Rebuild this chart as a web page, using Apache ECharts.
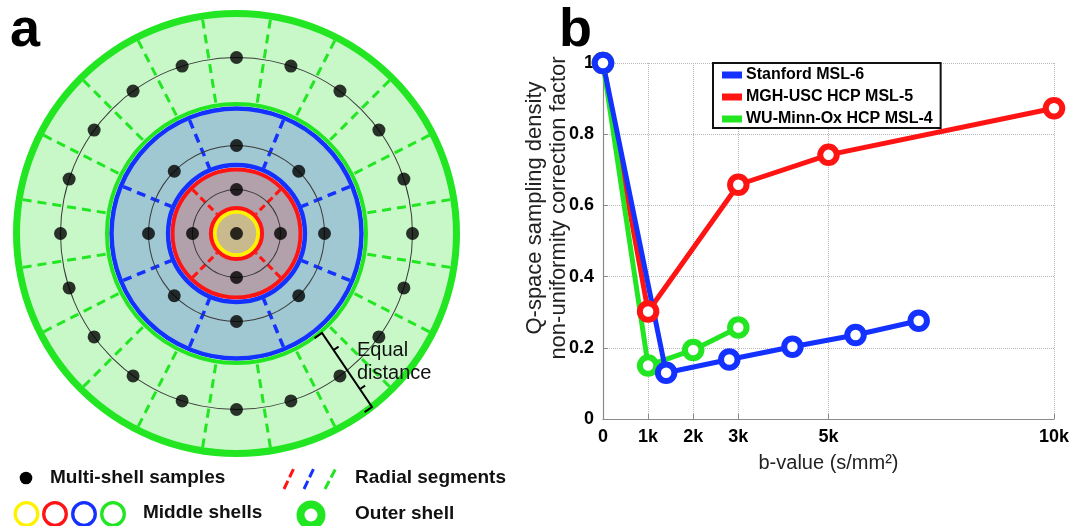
<!DOCTYPE html>
<html>
<head>
<meta charset="utf-8">
<title>Multi-shell sampling</title>
<script src="https://cdn.jsdelivr.net/npm/echarts@6/dist/echarts.min.js"></script>
<style>
  html, body { margin: 0; padding: 0; background: #fff; }
  #chart { width: 1075px; height: 526px; }
</style>
</head>
<body>
<div id="chart"></div>
<script>
// ---- panel b : correction factor vs b-value ----
var seriesNames = ['Stanford MSL-6', 'MGH-USC HCP MSL-5', 'WU-Minn-Ox HCP MSL-4'];
var stanfordB = [0, 1400, 2800, 4200, 5600, 7000];
var stanfordVal = [1, 0.13, 0.167, 0.203, 0.236, 0.276];
var mghB = [0, 1000, 3000, 5000, 10000];
var mghVal = [1, 0.302, 0.658, 0.742, 0.873];
var wuB = [0, 1000, 2000, 3000];
var wuVal = [1, 0.15, 0.194, 0.257];
var xTickValues = [0, 1000, 2000, 3000, 5000, 10000];

// ---- panel a : sample shells (radius in shell units, angles in degrees) ----
var shellRadius = [0, 1, 2, 4];
var shellAngles = [
	[0],
	[0, 90, 180, 270],
	[0, 45, 90, 135, 180, 225, 270, 315],
	[0, 18, 36, 54, 72, 90, 108, 126, 144, 162, 180, 198, 216, 234, 252, 270, 288, 306, 324, 342]
];

var FONT = 'Arial, "Liberation Sans", sans-serif';
var BLUE = '#1432ff', RED = '#ff1414', GREEN = '#22e622', YELLOW = '#fff200';
var cx = 236.5, cy = 233.5, unit = 44;

var chart = echarts.init(document.getElementById('chart'));

// sample points
var samples = [];
for (var i = 0; i < shellRadius.length; i++) {
	for (var j = 0; j < shellAngles[i].length; j++) {
		samples.push([shellRadius[i], shellAngles[i][j]]);
	}
}

// filled annulus drawn as a one-slice pie
function ring(r0, r1, fill, stroke, sw, z) {
	return {
		type: 'pie', silent: true, z: z,
		center: [cx, cy], radius: [r0, r1],
		label: { show: false }, labelLine: { show: false },
		emphasis: { disabled: true },
		itemStyle: { color: fill, borderColor: stroke || fill, borderWidth: sw || 0 },
		data: [{ value: 1, name: 'ring' }]
	};
}

// radial dashed segments from an angle axis split line
function segAxis(idx, start, step, color, dash, w) {
	return {
		polarIndex: idx, type: 'value', min: 0, max: 360, interval: step, startAngle: start, z: 3,
		axisLine: { show: false }, axisTick: { show: false }, axisLabel: { show: false },
		splitArea: { show: false },
		splitLine: { show: true, lineStyle: { color: color, width: w, type: dash } }
	};
}

// hollow thick markers: white filled circle with a wide coloured border
function lineSeries(name, xs, ys, color) {
	var d = [];
	for (var k = 0; k < xs.length; k++) d.push([xs[k], ys[k]]);
	return {
		name: name, type: 'line', data: d,
		symbol: 'circle', symbolSize: 16.5,
		lineStyle: { width: 5, color: color },
		itemStyle: { color: '#fff', borderColor: color, borderWidth: 6 },
		z: 3
	};
}

var series = [
	// panel a shells
	ring(0, 21.8, '#c8ba8c', YELLOW, 4, 1),
	ring(25.6, 64, '#b2a0aa', RED, 4, 1),
	ring(68.4, 125, '#a0c8d2', BLUE, 4.5, 1),
	ring(129.5, 220, '#c8f8c8', GREEN, 4, 1),
	ring(216.5, 223.5, GREEN, null, 0, 4)
];
// thin circles through the samples
for (var s = 1; s < shellRadius.length; s++) {
	var rr = shellRadius[s] * unit;
	series.push(ring(rr - 0.5, rr + 0.5, '#3a3a3a', null, 0, 4));
}
series.push({
	type: 'scatter', coordinateSystem: 'polar', polarIndex: 0, silent: true,
	symbolSize: 13, itemStyle: { color: '#000' }, z: 6, data: samples
});
// panel b lines (blue on top)
series.push(lineSeries(seriesNames[1], mghB, mghVal, RED));
series.push(lineSeries(seriesNames[2], wuB, wuVal, GREEN));
series.push(lineSeries(seriesNames[0], stanfordB, stanfordVal, BLUE));

var axisGray = '#8a8a8a';
var gridLine = { lineStyle: { type: 'dotted', color: '#b8b8b8', width: 1 } };

var option = {
	animation: false,
	backgroundColor: '#fff',
	polar: [
		{ center: [cx, cy], radius: 5 * unit },
		{ center: [cx, cy], radius: [27.6, 62] },
		{ center: [cx, cy], radius: [70.6, 122.7] },
		{ center: [cx, cy], radius: [131.5, 216.5] }
	],
	angleAxis: [
		{ polarIndex: 0, type: 'value', min: 0, max: 360, startAngle: 0, show: false },
		segAxis(1, 45, 90, RED, [7, 4], 3),
		segAxis(2, 22.5, 45, BLUE, [9, 6], 3.5),
		segAxis(3, 9, 18, GREEN, [9, 6], 3)
	],
	radiusAxis: [
		{ polarIndex: 0, type: 'value', min: 0, max: 5, show: false },
		{ polarIndex: 1, type: 'value', min: 0, max: 1, show: false },
		{ polarIndex: 2, type: 'value', min: 0, max: 1, show: false },
		{ polarIndex: 3, type: 'value', min: 0, max: 1, show: false }
	],
	grid: { left: 603, top: 63, width: 451, height: 356, outerBoundsMode: 'none' },
	xAxis: {
		type: 'value', min: 0, max: 10000, interval: 1000,
		axisLine: { lineStyle: { color: axisGray, width: 1.2 } },
		axisTick: { inside: true, length: 5, customValues: xTickValues, lineStyle: { color: axisGray } },
		axisLabel: {
			customValues: xTickValues, margin: 9, color: '#000', fontFamily: FONT,
			fontWeight: 'bold', fontSize: 18,
			formatter: function (v) { return v === 0 ? '0' : (v / 1000) + 'k'; }
		},
		splitLine: gridLine,
		name: 'b-value (s/mm²)', nameLocation: 'middle', nameGap: 34,
		nameTextStyle: { fontFamily: FONT, fontSize: 20, color: '#222' }
	},
	yAxis: {
		type: 'value', min: 0, max: 1, interval: 0.2,
		axisLine: { show: true, lineStyle: { color: axisGray, width: 1.2 } },
		axisTick: { show: true, inside: true, length: 5, lineStyle: { color: axisGray } },
		axisLabel: {
			margin: 9, color: '#000', fontFamily: FONT, fontWeight: 'bold', fontSize: 18,
			formatter: function (v) { return (v === 0 || v === 1) ? String(v) : v.toFixed(1); }
		},
		splitLine: gridLine
	},
	legend: {
		data: [
			{ name: seriesNames[0], itemStyle: { color: BLUE } },
			{ name: seriesNames[1], itemStyle: { color: RED } },
			{ name: seriesNames[2], itemStyle: { color: GREEN } }
		],
		orient: 'vertical', left: 713, top: 63,
		icon: 'rect', itemWidth: 18, itemHeight: 5, itemGap: 6, itemTextGap: 5,
		padding: [4, 8, 1, 9], borderColor: '#111', borderWidth: 2, borderRadius: 0,
		backgroundColor: '#fff', selectedMode: false,
		textStyle: { fontFamily: FONT, fontWeight: 'bold', fontSize: 16, color: '#000' }
	},
	graphic: { elements: [
		{ type: 'text', x: 10, y: 31, z: 10, style: { text: 'a', font: 'bold 54px ' + FONT, fill: '#000', align: 'left', verticalAlign: 'middle' } },
		{ type: 'text', x: 559, y: 31, z: 10, style: { text: 'b', font: 'bold 54px ' + FONT, fill: '#000', align: 'left', verticalAlign: 'middle' } },
		// y title
		{ type: 'text', x: 547, y: 208, rotation: Math.PI / 2, z: 10, style: {
			text: 'Q-space sampling density\nnon-uniformity correction factor', font: '22px ' + FONT,
			lineHeight: 24, fill: '#222', align: 'center', verticalAlign: 'middle' } },
		// equal distance bracket
		{ type: 'polyline', z: 10, shape: { points: [[314.6, 338.1], [322, 333], [372, 407], [364.6, 412.1]] }, style: { stroke: '#000', lineWidth: 2, fill: null } },
		{ type: 'line', z: 10, shape: { x1: 333.6, y1: 350, x2: 338.6, y2: 346.6 }, style: { stroke: '#000', lineWidth: 2 } },
		{ type: 'line', z: 10, shape: { x1: 360.1, y1: 389, x2: 365.1, y2: 385.6 }, style: { stroke: '#000', lineWidth: 2 } },
		{ type: 'text', x: 357, y: 350, z: 10, style: { text: 'Equal', font: '20px ' + FONT, fill: '#111', verticalAlign: 'middle' } },
		{ type: 'text', x: 357, y: 373, z: 10, style: { text: 'distance', font: '20px ' + FONT, fill: '#111', verticalAlign: 'middle' } },
		// panel a key
		{ type: 'circle', z: 10, shape: { cx: 26, cy: 478, r: 6.3 }, style: { fill: '#000' } },
		{ type: 'text', x: 50, y: 478, z: 10, style: { text: 'Multi-shell samples', font: 'bold 19px ' + FONT, fill: '#111', verticalAlign: 'middle' } },
		{ type: 'line', z: 10, shape: { x1: 284, y1: 489, x2: 293.5, y2: 469 }, style: { stroke: RED, lineWidth: 3, lineDash: [9, 4] } },
		{ type: 'line', z: 10, shape: { x1: 304, y1: 489, x2: 313.5, y2: 469 }, style: { stroke: BLUE, lineWidth: 3, lineDash: [9, 4] } },
		{ type: 'line', z: 10, shape: { x1: 325, y1: 489, x2: 336, y2: 468 }, style: { stroke: GREEN, lineWidth: 3, lineDash: [9, 4] } },
		{ type: 'text', x: 355, y: 478, z: 10, style: { text: 'Radial segments', font: 'bold 19px ' + FONT, fill: '#111', verticalAlign: 'middle' } },
		{ type: 'circle', z: 10, shape: { cx: 26.5, cy: 514, r: 11.3 }, style: { fill: null, stroke: YELLOW, lineWidth: 3.3 } },
		{ type: 'circle', z: 10, shape: { cx: 55, cy: 514, r: 11.3 }, style: { fill: null, stroke: RED, lineWidth: 3.3 } },
		{ type: 'circle', z: 10, shape: { cx: 84, cy: 514, r: 11.3 }, style: { fill: null, stroke: BLUE, lineWidth: 3.3 } },
		{ type: 'circle', z: 10, shape: { cx: 113, cy: 514, r: 11.3 }, style: { fill: null, stroke: GREEN, lineWidth: 3.3 } },
		{ type: 'text', x: 143, y: 513, z: 10, style: { text: 'Middle shells', font: 'bold 19px ' + FONT, fill: '#111', verticalAlign: 'middle' } },
		{ type: 'circle', z: 10, shape: { cx: 311, cy: 515, r: 10.5 }, style: { fill: null, stroke: GREEN, lineWidth: 8 } },
		{ type: 'text', x: 355, y: 514, z: 10, style: { text: 'Outer shell', font: 'bold 19px ' + FONT, fill: '#111', verticalAlign: 'middle' } }
	] },
	series: series
};

chart.setOption(option);
</script>
</body>
</html>
